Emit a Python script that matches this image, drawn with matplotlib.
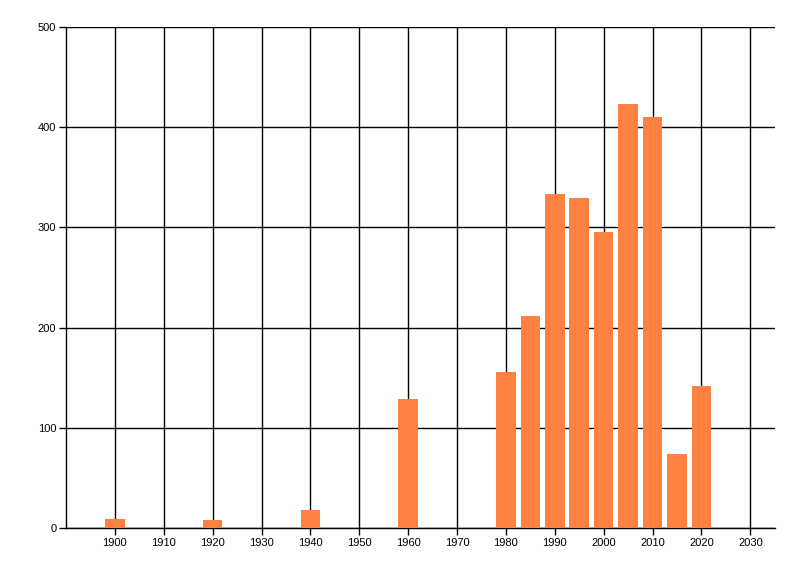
import matplotlib.pyplot as plt
import numpy as np

years = [1900, 1920, 1940, 1960, 1980, 1985, 1990, 1995, 2000, 2005, 2010, 2015, 2020]
counts = [9, 8, 18, 129, 156, 212, 333, 329, 295, 423, 410, 74, 142]
x_ticks = list(range(1900, 2031, 10))
y_ticks = [0, 100, 200, 300, 400, 500]

plt.rcParams['font.family'] = ['Liberation Sans', 'DejaVu Sans']

fig = plt.figure(figsize=(8, 5.76), dpi=100)
ax = fig.add_axes([0.0825, 0.0833, 0.886, 0.87])

# grid first, bars sit on top of it
ax.set_axisbelow(True)
ax.grid(True, color='black', linewidth=1.0)

ax.bar(years, counts, width=4, color='#FF8040', zorder=3)

ax.set_xlim(1890, 2035)
ax.set_ylim(0, 500)
ax.set_xticks(x_ticks)
ax.set_yticks(y_ticks)
ax.tick_params(labelsize=8, length=5, width=1, color='black', pad=2)

for s in ['top', 'right']:
    ax.spines[s].set_visible(False)
for s in ['left', 'bottom']:
    ax.spines[s].set_linewidth(1.0)

fig.savefig('out.png', dpi=100)
